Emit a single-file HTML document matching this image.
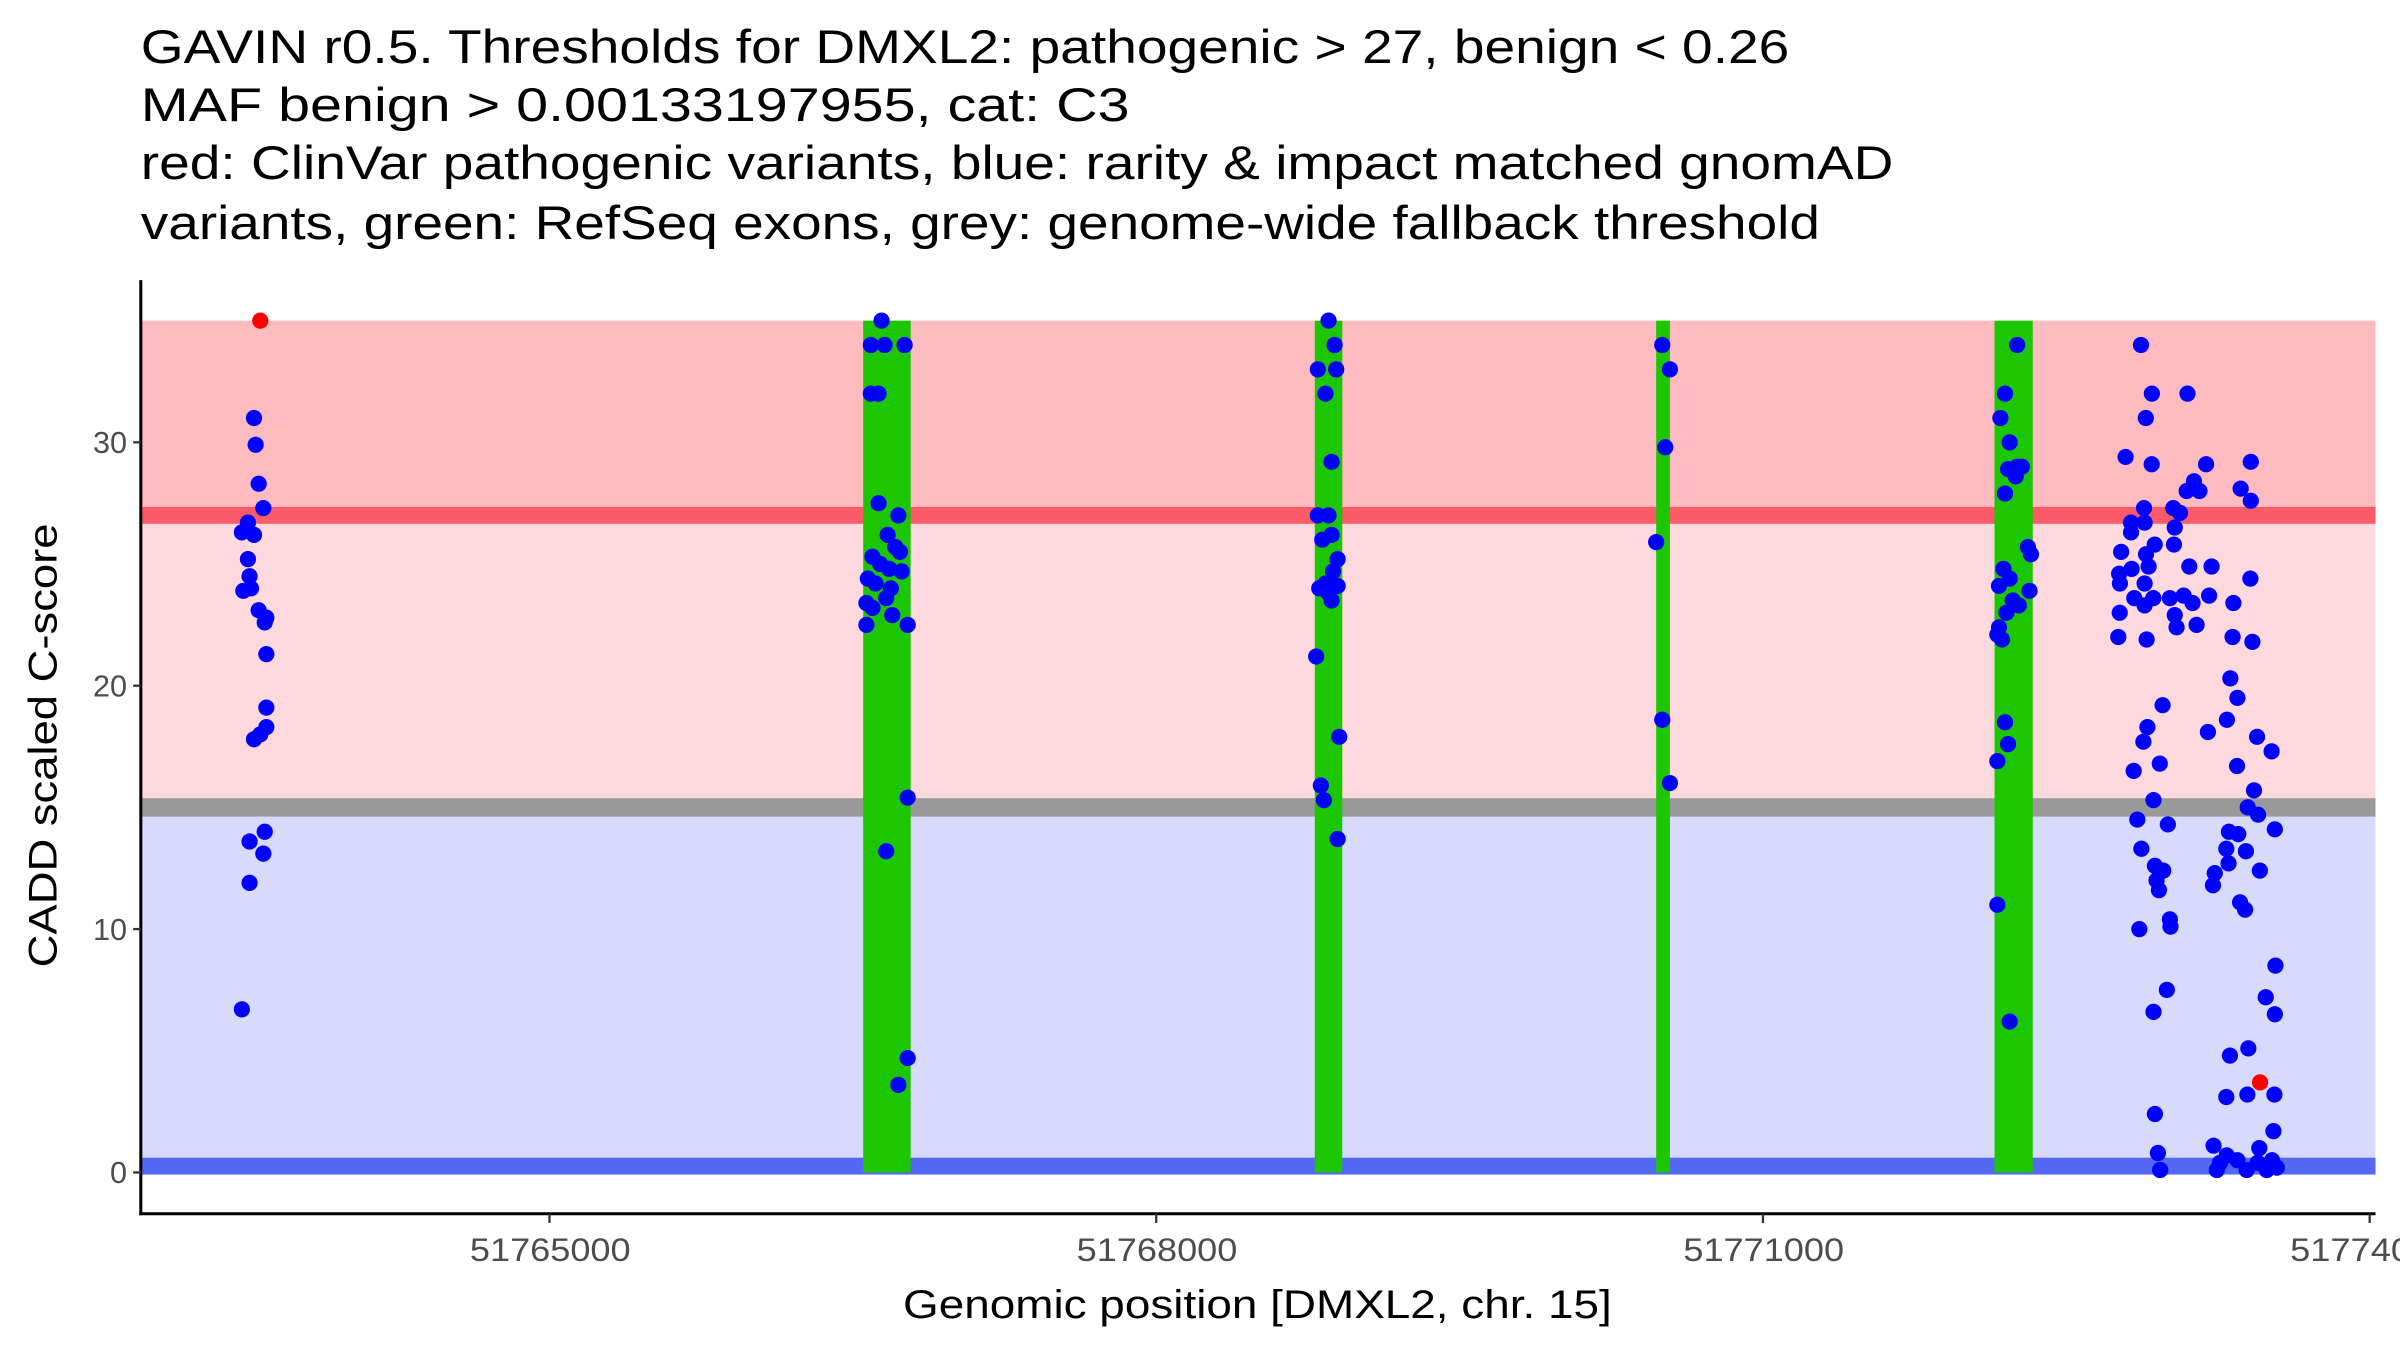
<!DOCTYPE html>
<html><head><meta charset="utf-8"><style>
html,body{margin:0;padding:0;background:#fff;}
svg{display:block;}
text{font-family:"Liberation Sans",Arial,sans-serif;}
</style></head><body>
<svg id="chart" width="2400" height="1350" viewBox="0 0 1568 882" xmlns="http://www.w3.org/2000/svg">
<g font-size="31" fill="#000">
<text x="92" y="41" textLength="1077" lengthAdjust="spacingAndGlyphs">GAVIN r0.5. Thresholds for DMXL2: pathogenic &gt; 27, benign &lt; 0.26</text>
<text x="92" y="79" textLength="646" lengthAdjust="spacingAndGlyphs">MAF benign &gt; 0.00133197955, cat: C3</text>
<text x="92" y="117" textLength="1145" lengthAdjust="spacingAndGlyphs">red: ClinVar pathogenic variants, blue: rarity &amp; impact matched gnomAD</text>
<text x="92" y="156" textLength="1097" lengthAdjust="spacingAndGlyphs">variants, green: RefSeq exons, grey: genome-wide fallback threshold</text>
</g>
<g id="bands"></g>
<g id="exons"></g>
<g id="pts"></g>
<g id="axes"></g>
</svg>
<script>
const xTicks = [51765000, 51768000, 51771000, 51774000];
const xTickLabels = ["51765000", "51768000", "51771000", "517740"];
const yTicks = [0, 10, 20, 30];
const exonStart = [51766551, 51768784, 51770472, 51772145];
const exonEnd = [51766786, 51768920, 51770540, 51772334];
const thresholdPath = 27, thresholdFallback = 15.0, thresholdBenign = 0.26, yMax = 35;
const benignPos = [
51763539,51763547,51763562,51763585,51763509,51763479,51763539,51763509,51763517,51763486,51763524,51763562,51763600,51763592,51763600,51763600,51763600,51763570,51763539,51763592,51763517,51763585,51763517,51763479,
51766642,51766589,51766657,51766756,51766589,51766627,51766627,51766725,51766672,51766710,51766733,51766597,51766635,51766680,51766741,51766574,51766612,51766688,51766567,51766665,51766597,51766695,51766567,51766771,51766771,51766665,51766771,51766725,
51768852,51768882,51768799,51768890,51768837,51768867,51768799,51768852,51768867,51768821,51768897,51768874,51768837,51768897,51768806,51768852,51768867,51768791,51768905,51768814,51768829,51768897,
51770502,51770540,51770517,51770472,51770502,51770540,
51772257,51772197,51772174,51772220,51772212,51772257,51772280,51772250,51772197,51772310,51772325,51772189,51772220,51772167,51772318,51772235,51772265,51772204,51772167,51772159,51772182,51772197,51772212,51772159,51772159,51772220,
51772869,51772923,51773099,51772893,51772793,51772922,51773191,51773412,51773131,51773158,51773095,51773362,51773412,51772884,51773029,51773062,51772820,51772887,51772820,51773036,51773032,51772937,51772771,51772894,51772907,51772761,51772823,51773108,51773218,51773410,51772765,51772887,51772836,51772887,51772930,51773012,51773080,51773124,51773206,51773326,51772764,51773036,51773045,51773144,51772757,51772897,51773322,51773420,
51773311,51773346,51772976,51772901,51772881,51773294,51773200,51773443,51773515,51772833,51772962,51773344,51773428,51772931,51773397,51773448,51772851,51773002,51773531,51773304,51773350,51773291,51772871,51773388,51772938,51772979,51773302,51773234,51773457,51772946,51772958,51773225,51773359,51773384,51773012,51773015,51772861,
51773534,51772997,51773486,51772931,51773531,51773400,51773309,51773291,51773395,51773529,51772938,51773524,51773228,51773454,51772953,51773293,51773346,51773517,51772964,51773244,51773392,51773491,51773541,51773260,51773446];
const benignScore = [
31,29.9,28.3,27.3,26.7,26.3,26.2,25.2,24.5,23.9,24.0,23.1,22.8,22.6,21.3,19.1,18.3,18.0,17.8,14.0,13.6,13.1,11.9,6.7,
35,34,34,34,32,32,27.5,27.0,26.2,25.7,25.5,25.3,25.0,24.8,24.7,24.4,24.2,24.0,23.4,23.6,23.2,22.9,22.5,22.5,15.4,13.2,4.7,3.6,
35,34,33,33,32,29.2,27,27,26.2,26.0,25.2,24.7,24.2,24.1,24.0,23.8,23.5,21.2,17.9,15.9,15.3,13.7,
34,33,29.8,25.9,18.6,16.0,
34,32,31,30,28.9,29.0,29.0,28.6,27.9,25.7,25.4,24.8,24.4,24.1,23.9,23.5,23.3,23.0,22.4,22.1,21.9,18.5,17.6,16.9,11.0,6.2,
34.0,32.0,32.0,31.0,29.4,29.1,29.1,29.2,28.4,28.0,28.0,28.1,27.6,27.3,27.3,27.1,26.7,26.7,26.3,26.5,25.8,25.8,25.5,25.4,24.9,24.6,24.8,24.9,24.9,24.4,24.2,24.2,23.6,23.3,23.6,23.6,23.7,23.4,23.7,23.4,23.0,22.9,22.4,22.5,22.0,21.9,22.0,21.8,
20.3,19.5,19.2,18.3,17.7,18.6,18.1,17.9,17.3,16.5,16.8,16.7,15.7,15.3,15.0,14.7,14.5,14.3,14.1,14.0,13.9,13.3,13.3,13.2,12.6,12.4,12.7,12.3,12.4,12.0,11.6,11.8,11.1,10.8,10.4,10.1,10.0,
8.5,7.5,7.2,6.6,6.5,5.1,4.8,3.1,3.2,3.2,2.4,1.7,1.1,1.0,0.8,0.7,0.5,0.5,0.1,0.1,0.1,0.1,0.2,0.4,0.4];
const pathoPos = [51763570, 51773458];
const pathoScore = [35, 3.7];

const NS="http://www.w3.org/2000/svg";
const X0=92, X1=1552, Y0=183, Y1=793;
const xs = p => 359 + (p - 51765000) * (396.4/3000);
const ys = v => 766 - v * 15.9;
function mk(tag, attrs, parent){const e=document.createElementNS(NS,tag);for(const k in attrs)e.setAttribute(k,attrs[k]);parent.appendChild(e);return e;}
const bands=document.getElementById('bands');
let r;
r=mk('rect',{x:X0,y:ys(yMax),width:X1-X0,height:ys(thresholdPath)-ys(yMax),fill:'#fdbbc0'},bands);


r=mk('rect',{x:X0,y:ys(thresholdPath),width:X1-X0,height:ys(thresholdFallback)-ys(thresholdPath),fill:'#fdd8dc'},bands);


r=mk('rect',{x:X0,y:ys(thresholdFallback),width:X1-X0,height:ys(thresholdBenign)-ys(thresholdFallback),fill:'#d7dafa'},bands);


r=mk('rect',{x:X0,y:ys(thresholdPath)-5.5,width:X1-X0,height:11,fill:'#fb5a68'},bands);


r=mk('rect',{x:X0,y:ys(thresholdFallback)-6,width:X1-X0,height:12,fill:'#999999'},bands);


r=mk('rect',{x:X0,y:ys(thresholdBenign)-5.5,width:X1-X0,height:11,fill:'#5468f4'},bands);


const ex=document.getElementById('exons');
exonStart.forEach((s,i)=>{
  const e=mk('rect',{x:xs(s),y:ys(yMax),width:xs(exonEnd[i])-xs(s),height:ys(0)-ys(yMax),fill:'#1cc700'},ex);
  
  
});
const pts=document.getElementById('pts');
benignPos.forEach((p,i)=>{
  const c=mk('circle',{cx:xs(p),cy:ys(benignScore[i]),r:5.3,fill:'#0000ff'},pts);
  
  
});
pathoPos.forEach((p,i)=>{
  const c=mk('circle',{cx:xs(p),cy:ys(pathoScore[i]),r:5.3,fill:'#ff0000'},pts);
  
  
});
const ax=document.getElementById('axes');
let l=mk('line',{x1:X0,y1:Y0,x2:X0,y2:Y1+1,stroke:'#000','stroke-width':2},ax);


l=mk('line',{x1:X0-1,y1:Y1,x2:X1,y2:Y1,stroke:'#000','stroke-width':2},ax);


yTicks.forEach(v=>{
  const t=mk('line',{x1:X0-5,y1:ys(v),x2:X0,y2:ys(v),stroke:'#333','stroke-width':1.5},ax);
  
  
  const tx=mk('text',{x:X0-9,y:ys(v)+7,'text-anchor':'end','font-size':20,fill:'#4d4d4d'},ax);
  tx.textContent=v;
  
  
});
xTicks.forEach((v,i)=>{
  const t=mk('line',{x1:xs(v),y1:Y1,x2:xs(v),y2:Y1+6,stroke:'#333','stroke-width':1.5},ax);
  
  
  const last = i===xTicks.length-1;
  const tx=mk('text',{x:xs(v)-52,y:Y1+31,'font-size':21,fill:'#4d4d4d',textLength:last?79:105,lengthAdjust:'spacingAndGlyphs'},ax);
  tx.textContent=xTickLabels[i];
  
  
});
let tt=mk('text',{x:590,y:861,'font-size':26,fill:'#000',textLength:463,lengthAdjust:'spacingAndGlyphs'},ax);
tt.textContent='Genomic position [DMXL2, chr. 15]';


tt=mk('text',{x:-145,y:0,'font-size':26,fill:'#000',textLength:290,lengthAdjust:'spacingAndGlyphs',transform:'translate(37,487) rotate(-90)'},ax);
tt.textContent='CADD scaled C-score';


</script>
</body></html>
